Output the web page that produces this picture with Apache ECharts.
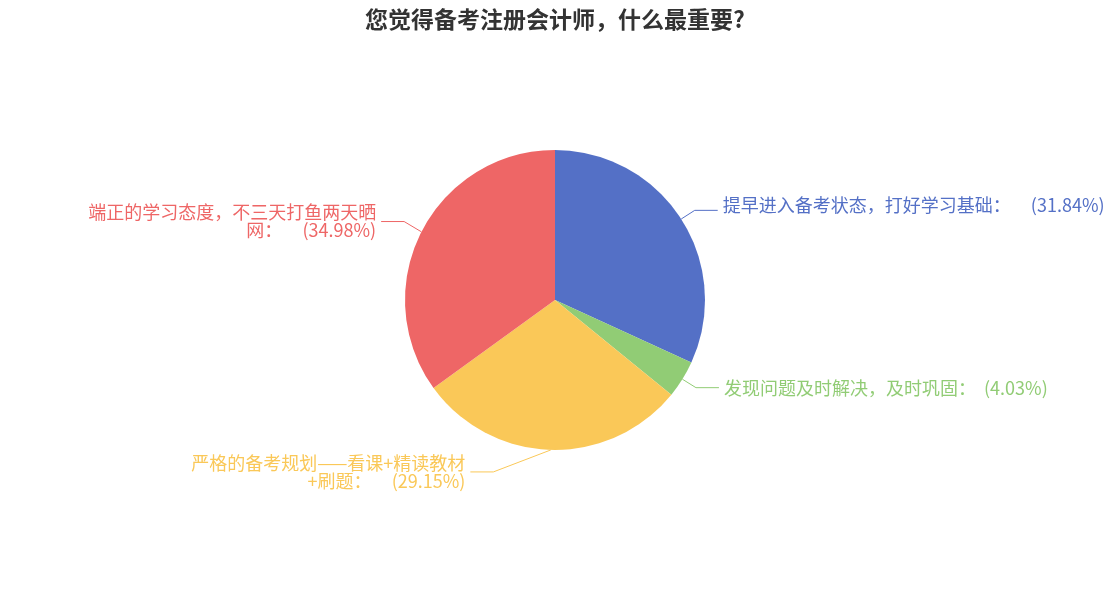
<!DOCTYPE html>
<html><head><meta charset="utf-8">
<script src="https://cdn.jsdelivr.net/npm/echarts@6/dist/echarts.min.js"></script>
<style>html,body{margin:0;padding:0;background:#fff}#c{width:1110px;height:600px}</style>
</head><body><div id="c"></div>
<script>
const titleText = '您觉得备考注册会计师，什么最重要?';
const categories = [
  '提早进入备考状态，打好学习基础',
  '发现问题及时解决，及时巩固',
  '严格的备考规划——看课+精读教材+刷题',
  '端正的学习态度，不三天打鱼两天晒网'
];
const values = [31.84, 4.03, 29.15, 34.98];
const colors = ['#5470c6', '#91cc75', '#fac858', '#ee6666'];

const labelWidths = [null, null, 281, 296];

function shiftLabel(p, dx, dy) {
  const out = { dx: dx, dy: dy };
  if (p.labelLinePoints) {
    const pts = p.labelLinePoints;
    out.labelLinePoints = [pts[0].slice(), [pts[1][0] + dx, pts[1][1] + dy], [pts[2][0] + dx, pts[2][1] + dy]];
  }
  return out;
}

const chart = echarts.init(document.getElementById('c'));
chart.setOption({
  color: colors,
  title: {
    text: titleText,
    left: 'center',
    top: 3,
    textStyle: { fontSize: 23, fontWeight: 'bold', color: '#333', fontFamily: '"Noto Sans CJK SC", sans-serif' }
  },
  series: [{
    type: 'pie',
    center: ['50%', '50%'],
    radius: '50%',
    data: categories.map((n, i) => {
      const d = { name: n, value: values[i] };
      d.label = labelWidths[i] ? { width: labelWidths[i], overflow: 'break' } : { overflow: 'none' };
      return d;
    }),
    labelLine: { length: 16, length2: 23 },
    label: {
      color: 'inherit',
      fontSize: 18,
      lineHeight: 18,
      fontFamily: '"Noto Sans CJK SC", sans-serif',
      formatter: p => p.name + '：' + (p.percent < 10 ? '  ' : '     ') + '(' + p.percent.toFixed(2) + '%)'
    },
    labelLayout: p => {
      if (p.dataIndex === 2) return shiftLabel(p, -57, 6);
      if (p.dataIndex === 3) return shiftLabel(p, -3, -3);
      if (p.dataIndex === 0) return { dy: -5 };
      return {};
    }
  }]
});
</script></body></html>
